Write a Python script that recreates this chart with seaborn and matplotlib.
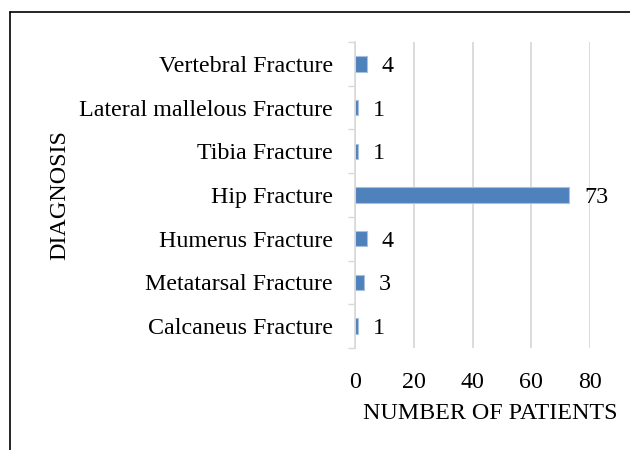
"""Horizontal bar chart of diagnoses vs number of patients."""

import matplotlib.pyplot as plt
from matplotlib.lines import Line2D
import pandas as pd
import seaborn as sns

## DATA
DIAGNOSES = ['Vertebral Fracture', 'Lateral mallelous Fracture', 'Tibia Fracture',
             'Hip Fracture', 'Humerus Fracture', 'Metatarsal Fracture',
             'Calcaneus Fracture']
PATIENTS = [4, 1, 1, 73, 4, 3, 1]
XTICKS = [0, 20, 40, 60, 80]

## SETTINGS
COLOR1 = '#4f81bd'
GRID = '#d9d9d9'
FSIZE = 17.3

sns.set_theme(style='white')
plt.rcParams['font.family'] = ['Liberation Serif', 'DejaVu Serif']
plt.rcParams['text.color'] = 'black'
plt.rcParams['axes.labelcolor'] = 'black'
plt.rcParams['xtick.color'] = 'black'
plt.rcParams['ytick.color'] = 'black'

df = pd.DataFrame({'diagnosis': DIAGNOSES, 'patients': PATIENTS})

fig = plt.figure(figsize=(6.3, 4.5), dpi=100)
ax = fig.add_axes([355 / 630, 1 - 348 / 450, 235 / 630, 306 / 450])

sns.barplot(data=df, x='patients', y='diagnosis', orient='h', color=COLOR1,
            width=0.35, edgecolor='#a7c0de', linewidth=0.8, saturation=1, ax=ax)

ax.set_xlim(0, 80)
ax.set_ylim(len(DIAGNOSES) - 0.5, -0.5)
ax.set_xticks(XTICKS)
ax.xaxis.grid(True, color=GRID, linewidth=1.3)
ax.set_axisbelow(True)

# category boundary ticks on the left spine
ax.set_yticks(range(len(DIAGNOSES)))
ax.set_yticklabels(DIAGNOSES, fontsize=FSIZE)
ax.set_yticks([i - 0.5 for i in range(len(DIAGNOSES) + 1)], minor=True)
ax.tick_params(axis='y', which='major', length=0, pad=16)
ax.tick_params(axis='y', which='minor', length=5, color=GRID, width=1, left=True)
ax.tick_params(axis='x', length=0, labelsize=FSIZE, pad=17)

for side in ['top', 'right', 'bottom']:
    ax.spines[side].set_visible(False)
ax.spines['left'].set_color(GRID)
ax.spines['left'].set_linewidth(1.2)

for ind, val in enumerate(PATIENTS):
    ax.text(val + 5.1, ind, str(val), va='center_baseline', ha='left', fontsize=FSIZE)

ax.set_xlabel('NUMBER OF PATIENTS', fontsize=FSIZE)
ax.xaxis.set_label_coords(0.574, -0.181)
ax.set_ylabel('DIAGNOSIS', fontsize=FSIZE)
ax.yaxis.set_label_coords(-1.21, 0.5)

# outer frame (top and left edges)
fig.add_artist(Line2D([10 / 630, 1], [1 - 12 / 450, 1 - 12 / 450],
                      color='black', linewidth=1.2, transform=fig.transFigure))
fig.add_artist(Line2D([10 / 630, 10 / 630], [0, 1 - 12 / 450],
                      color='black', linewidth=1.2, transform=fig.transFigure))

fig.savefig('out.png', dpi=100)
